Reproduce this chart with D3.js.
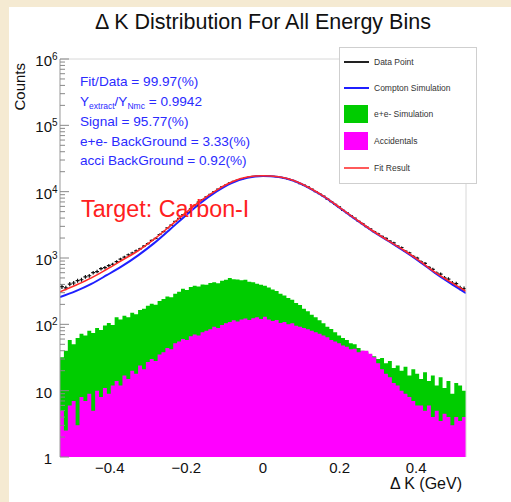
<!DOCTYPE html>
<html><head><meta charset="utf-8">
<script src="https://cdn.jsdelivr.net/npm/d3@7"></script>
<style>
body{margin:0;background:#f5ead2;}
svg{display:block;font-family:"Liberation Sans",Arial,Helvetica,sans-serif;}
</style>
</head><body><svg id="c" width="511" height="502"></svg>
<script>
// ---------------- data ----------------
const xDomain = [-0.53, 0.53];
const yDomain = [1, 1e6];
const yTicks = [1, 10, 100, 1e3, 1e4, 1e5, 1e6];
const yTickBase = ["1", "10", "10", "10", "10", "10", "10"];
const yTickExp = ["", "", "2", "3", "4", "5", "6"];
const xTicks = [-0.4, -0.2, 0, 0.2, 0.4];
const xTickLabels = ["\u22120.4", "\u22120.2", "0", "0.2", "0.4"];

// e+e- simulation histogram (equal bins across xDomain)
const eeCounts = [32,40,58,50,62,72,68,80,74,88,82,96,105,98,128,118,135,128,150,142,
  165,172,190,205,198,225,240,262,255,290,310,345,330,365,380,372,400,395,420,432,
  415,455,470,500,480,475,462,470,440,430,410,395,380,360,335,318,290,272,250,235,
  210,195,172,158,140,128,115,104,92,85,76,68,62,58,52,50,44,40,38,34,
  33,30,31,26,28,22,24,20,23,17,21,18,15,19,14,17,12,16,11,14,
  9,13,12,10];
// Accidentals histogram
const acciCounts = [5,2.5,6,7,3,8,7,9,5,10,8,11,9,12,14,12,17,15,20,18,
  24,21,27,30,28,35,38,44,42,52,55,60,58,66,70,68,76,80,84,92,
  88,98,104,108,115,110,118,122,116,124,128,120,130,118,112,116,105,108,100,104,
  95,92,88,84,80,76,72,68,64,58,55,52,48,46,42,43,38,40,40,36,
  32,26,21,18,16,13,12,10,9,8,7,6,6,5,6,4,5,3.5,4.5,4,
  3,4,3.5,4];
// Data points (same bins)
const dataCounts = [370,355,405,420,455,470,520,540,600,625,690,715,770,805,880,965,1030,1120,1190,1285,
  1370,1510,1650,1840,1980,2260,2490,2840,3140,3570,3960,4490,4880,5520,6140,6950,7560,8350,9100,10050,
  10930,11800,12550,13530,14250,15000,15450,16250,16560,17010,17150,17400,17270,17240,17030,16890,16490,15880,15460,14820,
  14100,13210,12560,11780,10940,10030,9310,8540,7740,7100,6440,5910,5230,4810,4350,4000,3570,3300,2970,2750,
  2490,2320,2120,1980,1800,1690,1510,1440,1270,1195,1055,995,875,830,720,675,590,570,500,480,
  420,410,355,345];
// smooth curves
const curveX = [-0.53,-0.489,-0.448,-0.408,-0.367,-0.326,-0.285,-0.245,-0.204,-0.163,-0.122,-0.082,-0.041,0,
  0.041,0.082,0.122,0.163,0.204,0.245,0.285,0.326,0.367,0.408,0.448,0.489,0.53];
const comptonCounts = [257,316,407,550,759,1096,1660,2630,4266,6761,10000,13490,16218,17179,
  16596,14454,11220,8128,5495,3715,2570,1820,1288,891,603,417,295];
const fitCounts = [309,389,501,676,933,1288,1905,2951,4677,7244,10471,13964,16596,17378,
  16788,14622,11350,8222,5559,3758,2600,1841,1318,912,617,437,316];

const statLines = ["Fit/Data = 99.97(%)", null, "Signal = 95.77(%)", "e+e- BackGround = 3.33(%)", "acci BackGround = 0.92(%)"];
const legendItems = [
  {label: "Data Point", type: "line", color: "#222"},
  {label: "Compton Simulation", type: "line", color: "#1f1fff"},
  {label: "e+e- Simulation", type: "box", color: "#00cc00"},
  {label: "Accidentals", type: "box", color: "#ff00ff"},
  {label: "Fit Result", type: "line", color: "#ff5a5a"}
];

// ---------------- drawing ----------------
const svg = d3.select("#c");
svg.append("rect").attr("x",0).attr("y",0).attr("width",511).attr("height",502).attr("fill","#f5ead2");
svg.append("rect").attr("x",9).attr("y",7).attr("width",502).attr("height",495).attr("fill","#fff");

const L = 60, R = 466, T = 59, B = 457;
const x = d3.scaleLinear().domain(xDomain).range([L, R]);
const y = d3.scaleLog().domain(yDomain).range([B, T]);

svg.append("defs").append("clipPath").attr("id","clip")
  .append("rect").attr("x",L).attr("y",T).attr("width",R-L).attr("height",B-T);
const plot = svg.append("g").attr("clip-path","url(#clip)");

function histPts(vals){
  const w = (xDomain[1]-xDomain[0])/vals.length;
  const pts = vals.map((v,i)=>[xDomain[0]+i*w, v]);
  pts.push([xDomain[1], vals[vals.length-1]]);
  return pts;
}
const area = d3.area().x(d=>x(d[0])).y0(y(1)).y1(d=>y(Math.max(d[1],1))).curve(d3.curveStepAfter);
plot.append("path").attr("d", area(histPts(eeCounts))).attr("fill","#00cc00");
plot.append("path").attr("d", area(histPts(acciCounts))).attr("fill","#ff00ff");

// data points with error bars
const bw = (xDomain[1]-xDomain[0])/dataCounts.length;
let dp = "";
dataCounts.forEach((v,i)=>{
  const c = xDomain[0]+(i+0.5)*bw;
  const e = Math.sqrt(v)*1.5;
  dp += `M${x(c-bw/2)},${y(v)}H${x(c+bw/2)}M${x(c)},${y(v+e)}V${y(v-e)}`;
});
plot.append("path").attr("d", dp).attr("stroke","#111").attr("stroke-width",1.2).attr("fill","none");

const line = d3.line().x((d,i)=>x(curveX[i])).y(d=>y(d)).curve(d3.curveMonotoneX);
plot.append("path").attr("d", line(comptonCounts)).attr("stroke","#1f1fff").attr("stroke-width",2).attr("fill","none");
plot.append("path").attr("d", line(fitCounts)).attr("stroke","#ff2a2a").attr("stroke-width",1.6).attr("fill","none");

// frame
svg.append("path").attr("d",`M${L},${T}H${R}V${B}`).attr("stroke","#d8d8d8").attr("fill","none");
svg.append("line").attr("x1",L).attr("x2",L).attr("y1",T).attr("y2",B).attr("stroke","#999");

// y ticks
const g = svg.append("g");
for (let e = 0; e < 6; e++) {
  for (let k = 1; k <= 9; k++) {
    const v = k*Math.pow(10,e);
    g.append("line").attr("x1",L).attr("x2",L+(k===1?9:5)).attr("y1",y(v)).attr("y2",y(v))
      .attr("stroke","#888").attr("stroke-width",1);
  }
}
g.append("line").attr("x1",L).attr("x2",L+9).attr("y1",y(1e6)).attr("y2",y(1e6)).attr("stroke","#888");
yTicks.forEach((t,i)=>{
  const yy = y(t);
  g.append("text").attr("x",52).attr("y",yy+7).attr("text-anchor","end")
    .attr("font-size",15).attr("fill","#111").text(yTickBase[i]);
  if (yTickExp[i]) g.append("text").attr("x",52).attr("y",yy+1)
    .attr("font-size",10).attr("fill","#111").text(yTickExp[i]);
});
// x ticks
xTicks.forEach((t,i)=>{
  g.append("text").attr("x",x(t)).attr("y",473).attr("text-anchor","middle")
    .attr("font-size",15).attr("fill","#111").text(xTickLabels[i]);
});
// axis titles
svg.append("text").attr("transform","translate(25,63) rotate(-90)").attr("text-anchor","end")
  .attr("font-size",15).attr("fill","#111").text("Counts");
svg.append("text").attr("x",462).attr("y",489).attr("text-anchor","end")
  .attr("font-size",16).attr("fill","#111").text("\u0394 K (GeV)");
// title
svg.append("text").attr("x",263).attr("y",29).attr("text-anchor","middle")
  .attr("font-size",21.5).attr("fill","#111").text("\u0394 K Distribution For All Energy Bins");

// stats text
const st = svg.append("g").attr("fill","#2b2bff").attr("font-size",13.6);
const baseY = [86,106,126,146,165];
statLines.forEach((s,i)=>{
  if (s) { st.append("text").attr("x",80).attr("y",baseY[i]).text(s); return; }
  const t = st.append("text").attr("x",80).attr("y",baseY[i]);
  t.append("tspan").text("Y");
  t.append("tspan").attr("font-size",8.5).attr("dy",3).text("extract");
  t.append("tspan").attr("dy",-3).text("/Y");
  t.append("tspan").attr("font-size",8.5).attr("dy",3).text("Nmc");
  t.append("tspan").attr("dy",-3).text(" = 0.9942");
});
svg.append("text").attr("x",81).attr("y",217).attr("font-size",23.3).attr("fill","#ff2020").text("Target: Carbon-I");

// legend
const lg = svg.append("g");
lg.append("rect").attr("x",339.5).attr("y",47.5).attr("width",137).attr("height",136)
  .attr("fill","#fff").attr("stroke","#cfcfcf");
const legY = [62, 88, 114, 141, 168];
legendItems.forEach((it,i)=>{
  const yy = legY[i];
  if (it.type === "line") {
    lg.append("line").attr("x1",344).attr("x2",369).attr("y1",yy).attr("y2",yy)
      .attr("stroke",it.color).attr("stroke-width",2);
  } else {
    lg.append("rect").attr("x",344).attr("y",yy-9).attr("width",24).attr("height",18).attr("fill",it.color);
  }
  lg.append("text").attr("x",374).attr("y",yy+3).attr("font-size",8.5).attr("fill","#333").text(it.label);
});
</script>
</body></html>
